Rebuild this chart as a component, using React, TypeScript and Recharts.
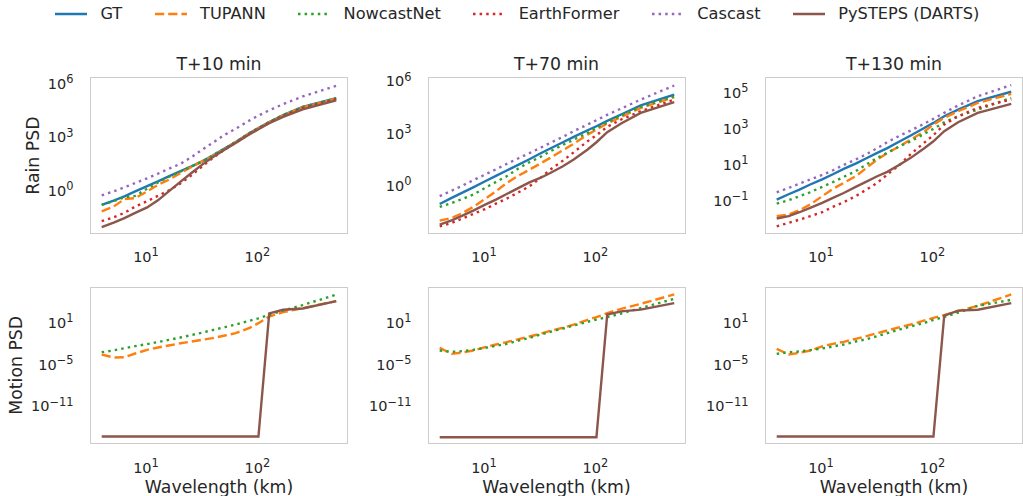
import React from 'react';
import { LineChart, Line, XAxis, YAxis } from 'recharts';

// Wavelengths (km) of the sampled spectral bins
const wavelengths = [4, 5.12, 6.4, 8, 10.24, 12.8, 16, 20.48, 25.6, 32, 39.38, 51.2, 64, 85.33, 102.4, 128, 170.67, 256, 512];

// Rain PSD, log10 values — T+10 min
const rainGT10 = [-0.8, -0.57, -0.33, -0.05, 0.25, 0.51, 0.79, 1.09, 1.35, 1.63, 1.95, 2.36, 2.72, 3.22, 3.5, 3.84, 4.23, 4.68, 5.18];
const rainTupann10 = [-1.17, -0.9, -0.48, -0.43, -0.05, 0.32, 0.6, 0.98, 1.32, 1.63, 1.92, 2.33, 2.7, 3.2, 3.48, 3.82, 4.2, 4.65, 5.15];
const rainNowcast10 = [-0.8, -0.6, -0.38, -0.3, 0.1, 0.45, 0.76, 1.07, 1.34, 1.63, 1.95, 2.36, 2.72, 3.22, 3.5, 3.84, 4.23, 4.68, 5.17];
const rainEarth10 = [-1.72, -1.5, -1.25, -0.9, -0.6, -0.3, 0.0, 0.4, 0.85, 1.35, 1.8, 2.3, 2.68, 3.18, 3.46, 3.8, 4.18, 4.62, 5.12];
const rainCascast10 = [-0.27, -0.05, 0.18, 0.42, 0.68, 0.94, 1.22, 1.5, 1.87, 2.29, 2.66, 3.13, 3.46, 3.93, 4.2, 4.49, 4.84, 5.27, 5.87];
const rainPysteps10 = [-2.05, -1.8, -1.55, -1.25, -0.95, -0.55, -0.05, 0.5, 0.98, 1.45, 1.85, 2.3, 2.66, 3.15, 3.43, 3.77, 4.13, 4.55, 5.05];

// T+70 min
const rainGT70 = [-1.08, -0.73, -0.42, -0.12, 0.23, 0.54, 0.85, 1.19, 1.5, 1.83, 2.12, 2.48, 2.79, 3.17, 3.4, 3.71, 4.08, 4.6, 5.23];
const rainTupann70 = [-2.04, -1.88, -1.6, -1.25, -0.79, -0.35, 0.13, 0.56, 0.9, 1.25, 1.58, 2.02, 2.4, 2.92, 3.21, 3.56, 3.94, 4.46, 5.08];
const rainNowcast70 = [-1.25, -1.02, -0.79, -0.54, -0.15, 0.19, 0.52, 0.98, 1.33, 1.63, 1.96, 2.33, 2.63, 3.02, 3.31, 3.63, 4.02, 4.52, 5.13];
const rainEarth70 = [-2.37, -2.17, -1.92, -1.65, -1.37, -1.06, -0.77, -0.4, -0.06, 0.42, 0.9, 1.42, 1.9, 2.54, 2.88, 3.37, 3.79, 4.27, 4.94];
const rainCascast70 = [-0.63, -0.31, -0.02, 0.29, 0.62, 0.92, 1.23, 1.56, 1.85, 2.15, 2.44, 2.79, 3.12, 3.5, 3.75, 4.06, 4.42, 4.94, 5.75];
const rainPysteps70 = [-2.27, -2.02, -1.75, -1.46, -1.12, -0.83, -0.5, -0.15, 0.17, 0.42, 0.71, 1.1, 1.48, 2.06, 2.48, 3.06, 3.56, 4.17, 4.79];

// T+130 min
const rainGT130 = [-0.93, -0.63, -0.37, -0.09, 0.2, 0.48, 0.78, 1.07, 1.37, 1.67, 1.93, 2.31, 2.63, 3.06, 3.33, 3.7, 4.07, 4.54, 5.06];
const rainTupann130 = [-1.85, -1.76, -1.52, -1.2, -0.74, -0.33, 0.0, 0.37, 0.83, 1.3, 1.65, 2.05, 2.41, 2.87, 3.24, 3.61, 3.98, 4.44, 4.94];
const rainNowcast130 = [-1.15, -0.96, -0.74, -0.52, -0.22, 0.04, 0.33, 0.65, 1.02, 1.39, 1.67, 2.04, 2.31, 2.74, 3.0, 3.37, 3.7, 4.07, 4.72];
const rainEarth130 = [-2.41, -2.22, -2.04, -1.85, -1.63, -1.33, -1.07, -0.74, -0.37, 0.0, 0.46, 1.02, 1.6, 2.25, 2.65, 3.24, 3.7, 4.17, 4.63];
const rainCascast130 = [-0.52, -0.28, -0.04, 0.19, 0.44, 0.7, 1.0, 1.3, 1.59, 1.93, 2.26, 2.63, 2.91, 3.3, 3.56, 3.89, 4.3, 4.81, 5.43];
const rainPysteps130 = [-1.98, -1.85, -1.63, -1.39, -1.11, -0.83, -0.56, -0.22, 0.07, 0.37, 0.61, 1.02, 1.39, 1.94, 2.31, 2.87, 3.37, 3.89, 4.39];

// Motion PSD, log10 values
const motionTupann10 = [-3.59, -4.02, -3.98, -3.45, -2.92, -2.59, -2.3, -1.97, -1.73, -1.49, -1.25, -0.87, -0.53, 0.23, 0.9, 1.86, 2.48, 3.06, 4.06];
const motionNowcast10 = [-3.26, -3.0, -2.7, -2.4, -2.1, -1.8, -1.5, -1.15, -0.8, -0.45, -0.1, 0.33, 0.71, 1.25, 1.6, 2.1, 2.7, 3.5, 5.0];
const motionPysteps10 = [-15.36, -15.36, -15.36, -15.36, -15.36, -15.36, -15.36, -15.36, -15.36, -15.36, -15.36, -15.36, -15.36, -15.36, -15.36, 2.3, 2.82, 3.01, 4.06];

const motionTupann70 = [-2.64, -3.5, -3.31, -3.02, -2.54, -2.16, -1.82, -1.39, -1.01, -0.63, -0.2, 0.25, 0.7, 1.38, 1.77, 2.34, 2.96, 3.68, 5.02];
const motionNowcast70 = [-3.02, -3.21, -3.11, -2.92, -2.64, -2.35, -2.07, -1.6, -1.2, -0.75, -0.34, 0.14, 0.57, 1.1, 1.43, 1.77, 2.29, 3.06, 4.4];
const motionPysteps70 = [-15.45, -15.45, -15.45, -15.45, -15.45, -15.45, -15.45, -15.45, -15.45, -15.45, -15.45, -15.45, -15.45, -15.45, -15.45, 2.15, 2.6, 2.85, 3.78];

const motionTupann130 = [-2.78, -3.59, -3.35, -3.02, -2.44, -2.06, -1.78, -1.34, -0.96, -0.53, -0.15, 0.33, 0.71, 1.29, 1.67, 2.05, 2.63, 3.39, 5.02];
const motionNowcast130 = [-3.5, -3.26, -3.16, -2.97, -2.73, -2.44, -2.16, -1.73, -1.39, -0.96, -0.53, 0.0, 0.43, 0.95, 1.38, 1.8, 2.4, 3.39, 4.25];
const motionPysteps130 = [-15.36, -15.36, -15.36, -15.36, -15.36, -15.36, -15.36, -15.36, -15.36, -15.36, -15.36, -15.36, -15.36, -15.36, -15.36, 2.0, 2.7, 2.82, 3.78];

// Tick values
const xTicks = [10, 100];
const rainTicks10 = [1, 1e3, 1e6];
const rainTicks70 = [1, 1e3, 1e6];
const rainTicks130 = [0.1, 10, 1e3, 1e5];
const motionTicks = [1e-11, 1e-5, 10];

const titles = ['T+10 min', 'T+70 min', 'T+130 min'];

const SERIES = [
  { key: 'gt', name: 'GT', color: '#1f77b4', dash: undefined as string | undefined },
  { key: 'tupann', name: 'TUPANN', color: '#ff7f0e', dash: '9.2 4' },
  { key: 'nowcast', name: 'NowcastNet', color: '#2ca02c', dash: '2.5 4.1' },
  { key: 'earth', name: 'EarthFormer', color: '#d62728', dash: '2.5 4.1' },
  { key: 'cascast', name: 'Cascast', color: '#9467bd', dash: '2.5 4.1' },
  { key: 'pysteps', name: 'PySTEPS (DARTS)', color: '#8c564b', dash: undefined },
];

const FONT = '"DejaVu Sans", sans-serif';
const TEXT = '#262626';
const FRAME = '#cccccc';
const PW = 258;
const COL_X = [90, 427.5, 765];
const ROW_Y = [77.3, 286.5];
const ROW_H = [156.7, 157.5];
const YAXIS_W = 90;
const XAXIS_H = 40;
const TOP_PAD = 14;
const X_DOMAIN: [number, number] = [3.14, 653];
const LW = 2.4;

const toRows = (cols: Record<string, number[]>) =>
  wavelengths.map((w, i) => {
    const r: Record<string, number> = { wl: w };
    Object.keys(cols).forEach((k) => {
      r[k] = Math.pow(10, cols[k][i]);
    });
    return r;
  });

const panels = [
  { row: 0, col: 0, data: toRows({ gt: rainGT10, tupann: rainTupann10, nowcast: rainNowcast10, earth: rainEarth10, cascast: rainCascast10, pysteps: rainPysteps10 }), domain: [3.8e-3, 2.29e6], ticks: rainTicks10 },
  { row: 0, col: 1, data: toRows({ gt: rainGT70, tupann: rainTupann70, nowcast: rainNowcast70, earth: rainEarth70, cascast: rainCascast70, pysteps: rainPysteps70 }), domain: [1.62e-3, 1.74e6], ticks: rainTicks70 },
  { row: 0, col: 2, data: toRows({ gt: rainGT130, tupann: rainTupann130, nowcast: rainNowcast130, earth: rainEarth130, cascast: rainCascast130, pysteps: rainPysteps130 }), domain: [1.51e-3, 7.59e5], ticks: rainTicks130 },
  { row: 1, col: 0, data: toRows({ tupann: motionTupann10, nowcast: motionNowcast10, pysteps: motionPysteps10 }), domain: [3.16e-17, 1.23e6], ticks: motionTicks },
  { row: 1, col: 1, data: toRows({ tupann: motionTupann70, nowcast: motionNowcast70, pysteps: motionPysteps70 }), domain: [3.16e-17, 1.23e6], ticks: motionTicks },
  { row: 1, col: 2, data: toRows({ tupann: motionTupann130, nowcast: motionNowcast130, pysteps: motionPysteps130 }), domain: [3.16e-17, 1.23e6], ticks: motionTicks },
];

const expText = (v: number) => {
  const e = Math.round(Math.log10(v));
  return e < 0 ? '\u2212' + Math.abs(e) : String(e);
};

const YTick = (props: any) => {
  const { y, payload } = props;
  return (
    <text x={YAXIS_W - 16.5} y={y + 5.3} textAnchor="end" fill={TEXT} fontSize={14.5} fontFamily={FONT}>
      <tspan>10</tspan>
      <tspan dy={-5.7} fontSize={11.4}>{expText(payload.value)}</tspan>
    </text>
  );
};

const makeXTick = (ph: number) => (props: any) => {
  const { x, payload } = props;
  return (
    <text x={x} y={TOP_PAD + ph + 28} textAnchor="middle" fill={TEXT} fontSize={14.5} fontFamily={FONT}>
      <tspan>10</tspan>
      <tspan dy={-5.7} fontSize={11.4}>{expText(payload.value)}</tspan>
    </text>
  );
};

const Panel = ({ p }: { p: (typeof panels)[number] }) => {
  const ph = ROW_H[p.row];
  const keys = Object.keys(p.data[0]).filter((k) => k !== 'wl');
  const XT = makeXTick(ph);
  return (
    <div style={{ position: 'absolute', left: COL_X[p.col] - YAXIS_W, top: ROW_Y[p.row] - TOP_PAD }}>
      <LineChart
        width={YAXIS_W + PW}
        height={TOP_PAD + ph + XAXIS_H}
        data={p.data}
        margin={{ top: TOP_PAD, right: 0, bottom: 0, left: 0 }}
      >
        <XAxis
          dataKey="wl"
          type="number"
          scale="log"
          domain={X_DOMAIN}
          allowDataOverflow
          ticks={xTicks}
          interval={0}
          tick={<XT />}
          tickLine={false}
          axisLine={false}
          height={XAXIS_H}
        />
        <YAxis
          type="number"
          scale="log"
          domain={p.domain as [number, number]}
          allowDataOverflow
          ticks={p.ticks}
          interval={0}
          tick={<YTick />}
          tickLine={false}
          axisLine={false}
          width={YAXIS_W}
        />
        {SERIES.filter((s) => keys.includes(s.key)).map((s) => (
          <Line
            key={s.key}
            dataKey={s.key}
            stroke={s.color}
            strokeWidth={LW}
            strokeDasharray={s.dash}
            dot={false}
            activeDot={false}
            isAnimationActive={false}
            type="linear"
          />
        ))}
      </LineChart>
      <div
        style={{
          position: 'absolute',
          left: YAXIS_W,
          top: TOP_PAD,
          width: PW,
          height: ph,
          border: `1.25px solid ${FRAME}`,
          boxSizing: 'border-box',
          pointerEvents: 'none',
        }}
      />
    </div>
  );
};

const Legend = () => (
  <div
    style={{
      position: 'absolute',
      left: 55,
      top: 4.3,
      display: 'flex',
      alignItems: 'center',
      fontFamily: FONT,
      fontSize: 16.2,
      lineHeight: '20px',
      color: TEXT,
      whiteSpace: 'nowrap',
    }}
  >
    {SERIES.map((s, i) => (
      <div key={s.key} style={{ display: 'flex', alignItems: 'center', marginLeft: i === 0 ? 0 : 32.4 }}>
        <svg width={32.4} height={20} style={{ display: 'block' }}>
          <line x1={0} x2={32.4} y1={10} y2={10} stroke={s.color} strokeWidth={LW} strokeDasharray={s.dash} />
        </svg>
        <span style={{ marginLeft: 13 }}>{s.name}</span>
      </div>
    ))}
  </div>
);

export default function App() {
  return (
    <div style={{ position: 'absolute', left: 0, top: 0, width: 1023, height: 496, background: '#ffffff', overflow: 'hidden' }}>
      <Legend />
      {panels.map((p, i) => (
        <Panel key={i} p={p} />
      ))}
      <svg width={1023} height={496} style={{ position: 'absolute', left: 0, top: 0, pointerEvents: 'none' }}>
        {titles.map((t, i) => (
          <text key={t} x={COL_X[i] + PW / 2} y={70} textAnchor="middle" fill={TEXT} fontSize={17.3} fontFamily={FONT}>
            {t}
          </text>
        ))}
        {COL_X.map((cx, i) => (
          <text key={i} x={cx + PW / 2} y={492.5} textAnchor="middle" fill={TEXT} fontSize={17.3} fontFamily={FONT}>
            Wavelength (km)
          </text>
        ))}
        <text transform={`translate(38.5, ${ROW_Y[0] + ROW_H[0] / 2}) rotate(-90)`} textAnchor="middle" fill={TEXT} fontSize={17.3} fontFamily={FONT}>
          Rain PSD
        </text>
        <text transform={`translate(21.5, ${ROW_Y[1] + ROW_H[1] / 2}) rotate(-90)`} textAnchor="middle" fill={TEXT} fontSize={17.3} fontFamily={FONT}>
          Motion PSD
        </text>
      </svg>
    </div>
  );
}
